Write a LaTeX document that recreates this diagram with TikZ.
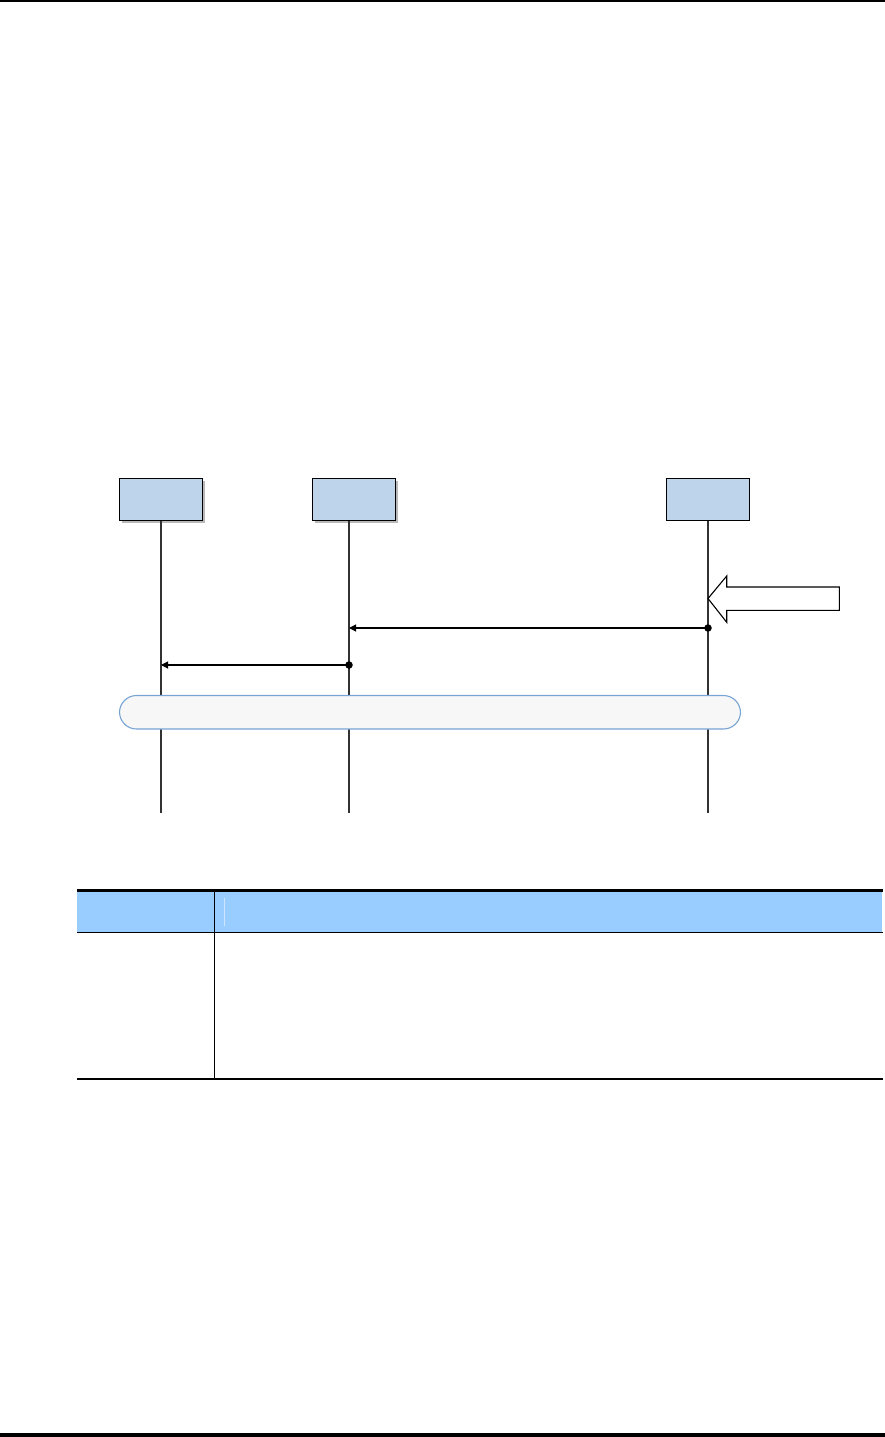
\documentclass[tikz,border=0pt]{standalone}
\usetikzlibrary{arrows.meta}
\definecolor{boxfill}{RGB}{190,212,235}
\definecolor{lifegray}{RGB}{50,50,50}
\definecolor{barfill}{RGB}{247,247,247}
\definecolor{barline}{RGB}{120,164,214}
\definecolor{headblue}{RGB}{153,204,255}
\definecolor{faintline}{RGB}{205,228,255}
\tikzset{
  actor/.style={draw=black, line width=1pt, fill=boxfill, minimum width=83pt, minimum height=42pt, inner sep=0pt, outer sep=0pt},
  shadowbox/.style={fill=gray!55, draw=none},
  lifeline/.style={draw=lifegray, line width=1.8pt},
  msg/.style={draw=black, line width=1.1pt, -{Triangle[length=7pt,width=7pt]}},
  dotmark/.style={circle, fill=black, minimum size=7.5pt, inner sep=0pt},
  bar/.style={draw=barline, line width=1.1pt, fill=barfill, rounded corners=17pt},
  thickrule/.style={line width=2.8pt, draw=black},
  thinrule/.style={line width=1.3pt, draw=black}
}
\begin{document}
\begin{tikzpicture}[x=1pt,y=-1pt]
\useasboundingbox (0,0) rectangle (885,1437);
% page rules
\draw[line width=1.5pt] (0,0.8) -- (885,0.8);
\draw[line width=3.5pt] (0,1435.2) -- (885,1435.2);
% shadows
\fill[shadowbox] (121.5,480.5) rectangle (204.5,523);
\fill[shadowbox] (314.5,480.5) rectangle (397.5,523);
% actor boxes
\node[actor] (A) at (160.8,499.5) {};
\node[actor] (B) at (353.8,499.5) {};
\node[actor] (C) at (708.2,499.5) {};
% lifeline ends
\coordinate (Ae) at (161,813);
\coordinate (Be) at (349,813);
\coordinate (Ce) at (708,813);
\coordinate (As) at (161,520.5);
\coordinate (Bs) at (349,520.5);
\coordinate (Cs) at (708,520.5);
\draw[lifeline] (As) -- (Ae);
\draw[lifeline] (Bs) -- (Be);
\draw[lifeline] (Cs) -- (Ce);
% block arrow
\draw[line width=1.1pt, fill=white] (708,598.5) -- (726.7,576) -- (726.7,587) -- (839.3,587) -- (839.3,610.3) -- (726.7,610.3) -- (726.7,622.3) -- cycle;
% messages
\node[dotmark] (d1) at (708,628) {};
\node[dotmark] (d2) at (349,665) {};
\coordinate (t1) at (349,628);
\coordinate (t2) at (161,665);
\draw[msg] (d1.center) -- (t1);
\draw[msg] (d2.center) -- (t2);
% rounded bar
\draw[bar] (119.5,695.5) rectangle (740.5,729);
% table
\fill[headblue] (77,891) rectangle (882,931.5);
\draw[faintline, line width=0.7pt] (224.3,898) -- (224.3,925.5);
\draw[thickrule] (77,890.2) -- (883,890.2);
\draw[thinrule] (77,932.2) -- (883,932.2);
\draw[thinrule] (214.5,891) -- (214.5,1078.5);
\draw[line width=2.2pt] (77,1079) -- (883,1079);
\end{tikzpicture}
\end{document}
